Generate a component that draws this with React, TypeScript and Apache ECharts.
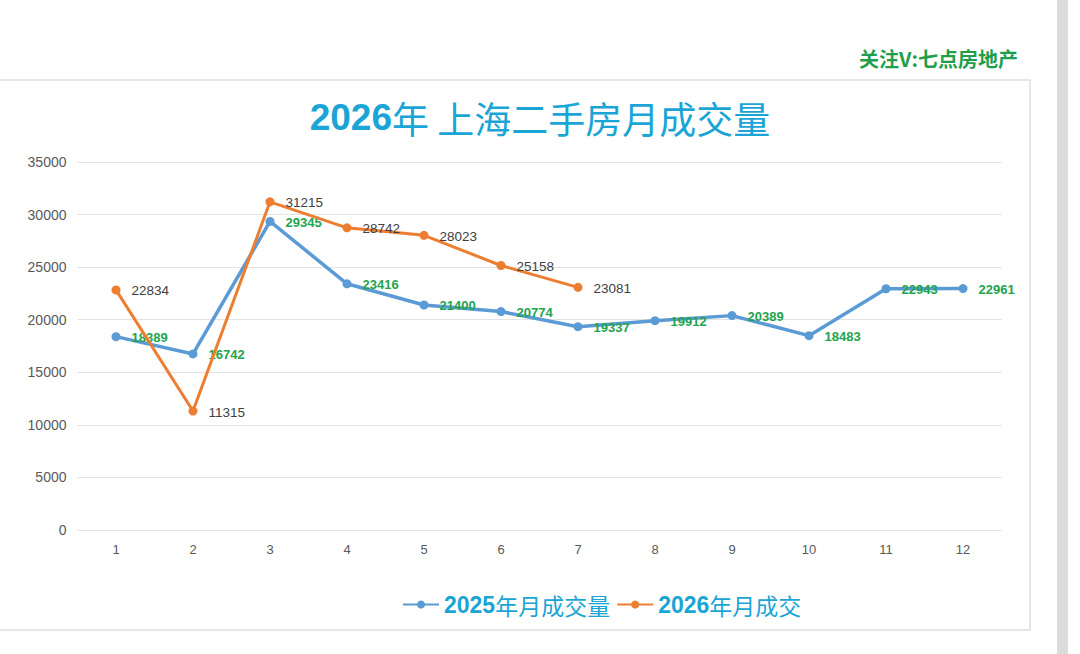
import React, { useEffect, useRef } from "react";
import * as echarts from "echarts";

const months = ["1", "2", "3", "4", "5", "6", "7", "8", "9", "10", "11", "12"];
const sales2025 = [18389, 16742, 29345, 23416, 21400, 20774, 19337, 19912, 20389, 18483, 22943, 22961];
const sales2026 = [22834, 11315, 31215, 28742, 28023, 25158, 23081];
const yTicks = { min: 0, max: 35000, interval: 5000 };
const seriesNames = ["2025年月成交量", "2026年月成交"];

const splitDigits = (s: string) => {
  const m = s.match(/^(\d+)(.*)$/);
  return m ? `{d|${m[1]}}{c|${m[2]}}` : s;
};

export default function App() {
  const ref = useRef<HTMLDivElement>(null);
  useEffect(() => {
    if (!ref.current) return;
    const chart = echarts.init(ref.current, null, { renderer: "svg" });
    chart.setOption({
      animation: false,
      backgroundColor: "#ffffff",
      textStyle: { fontFamily: "Arial, 'Liberation Sans', 'Noto Sans CJK SC', sans-serif" },
      graphic: [
        {
          type: "rect",
          shape: { x: -20, y: 80, width: 1050, height: 550 },
          style: { fill: "#ffffff", stroke: "#dedede", lineWidth: 1.5 },
          z: -10,
        },
        {
          type: "rect",
          shape: { x: 1057, y: 0, width: 11, height: 654 },
          style: { fill: "#dcdcdc" },
          z: -10,
        },
        {
          type: "text",
          right: 62,
          top: 48,
          style: {
            text: "关注V:七点房地产",
            fill: "#1f9f4c",
            font: "bold 20px 'Noto Sans CJK SC', sans-serif",
          },
        },
      ],
      title: {
        text: "{d|2026}{c|年 上海二手房月成交量}",
        left: "center",
        top: 94,
        textStyle: {
          rich: {
            d: {
              color: "#1aa5d6",
              fontSize: 37,
              fontWeight: "bold",
              fontFamily: "'Liberation Sans', Arial, sans-serif",
            },
            c: {
              color: "#1aa5d6",
              fontSize: 37,
              fontWeight: "normal",
              fontFamily: "'Noto Sans CJK SC', sans-serif",
            },
          },
        },
      },
      legend: {
        top: 588,
        left: 397,
        itemWidth: 36,
        itemHeight: 10,
        itemGap: 6,
        formatter: (name: string) => splitDigits(name),
        textStyle: {
          rich: {
            d: {
              color: "#1aa5d6",
              fontSize: 23,
              fontWeight: "bold",
              fontFamily: "'Liberation Sans', Arial, sans-serif",
            },
            c: {
              color: "#1aa5d6",
              fontSize: 23,
              fontWeight: "normal",
              fontFamily: "'Noto Sans CJK SC', sans-serif",
            },
          },
        },
        data: seriesNames,
      },
      grid: { left: 77.5, right: 78.5, top: 162, bottom: 124, containLabel: false },
      xAxis: {
        type: "category",
        data: months,
        boundaryGap: true,
        axisLine: { show: false },
        axisTick: { show: false },
        axisLabel: { color: "#595959", fontSize: 13, margin: 13 },
      },
      yAxis: {
        type: "value",
        min: yTicks.min,
        max: yTicks.max,
        interval: yTicks.interval,
        axisLine: { show: false },
        axisTick: { show: false },
        axisLabel: { color: "#595959", fontSize: 14, margin: 11, formatter: (v: number) => String(v) },
        splitLine: { lineStyle: { color: "#e3e3e3", width: 1 } },
      },
      series: [
        {
          name: seriesNames[0],
          type: "line",
          data: sales2025,
          symbol: "circle",
          symbolSize: 9,
          itemStyle: { color: "#5b9bd5" },
          lineStyle: { color: "#5b9bd5", width: 3.5 },
          label: {
            show: true,
            position: "right",
            distance: 11,
            color: "#22a44c",
            fontSize: 13,
            fontWeight: "bold",
            offset: [0, 1],
          },
          z: 2,
        },
        {
          name: seriesNames[1],
          type: "line",
          data: sales2026,
          symbol: "circle",
          symbolSize: 9,
          itemStyle: { color: "#ed7d31" },
          lineStyle: { color: "#ed7d31", width: 3 },
          label: {
            show: true,
            position: "right",
            distance: 11,
            color: "#404040",
            fontSize: 13.5,
            offset: [0, 1],
          },
          z: 3,
        },
      ],
    });
    return () => chart.dispose();
  }, []);
  return (
    <div
      ref={ref}
      style={{ position: "absolute", left: 0, top: 0, width: 1080, height: 654 }}
    />
  );
}
